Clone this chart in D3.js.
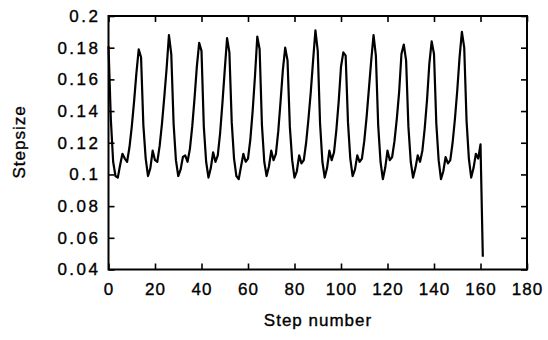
<!DOCTYPE html>
<html>
<head>
<meta charset="utf-8">
<script src="https://cdn.jsdelivr.net/npm/d3@7"></script>
<style>
  html, body { margin: 0; padding: 0; background: #fff; }
  svg { display: block; }
  text { font-family: "Liberation Sans", Arial, Helvetica, sans-serif; fill: #000; }
</style>
</head>
<body>
<svg id="chart" width="548" height="340"></svg>
<script>
// Step size taken at each step of the integration (step 0 .. 161)
const stepsize = [
  0.181, 0.135, 0.108, 0.099, 0.098, 0.106, 0.113, 0.110, 0.108, 0.117,
  0.130, 0.146, 0.164, 0.179, 0.174, 0.131, 0.110, 0.099, 0.104, 0.115,
  0.109, 0.108, 0.118, 0.132, 0.149, 0.167, 0.188, 0.176, 0.132, 0.109,
  0.099, 0.103, 0.111, 0.112, 0.108, 0.116, 0.130, 0.148, 0.168, 0.183,
  0.178, 0.130, 0.108, 0.098, 0.104, 0.114, 0.108, 0.112, 0.126, 0.145,
  0.166, 0.186, 0.177, 0.133, 0.110, 0.099, 0.097, 0.105, 0.113, 0.108,
  0.110, 0.122, 0.140, 0.162, 0.187, 0.179, 0.131, 0.108, 0.099, 0.105,
  0.115, 0.109, 0.113, 0.127, 0.146, 0.166, 0.180, 0.172, 0.130, 0.109,
  0.098, 0.102, 0.112, 0.107, 0.109, 0.120, 0.135, 0.152, 0.172, 0.191,
  0.178, 0.132, 0.108, 0.098, 0.104, 0.115, 0.109, 0.114, 0.128, 0.146,
  0.168, 0.177, 0.175, 0.133, 0.110, 0.099, 0.103, 0.112, 0.108, 0.110,
  0.121, 0.136, 0.154, 0.172, 0.188, 0.175, 0.131, 0.108, 0.097, 0.104,
  0.115, 0.109, 0.111, 0.121, 0.135, 0.152, 0.176, 0.182, 0.172, 0.130,
  0.108, 0.098, 0.104, 0.112, 0.108, 0.115, 0.129, 0.147, 0.170, 0.184,
  0.176, 0.132, 0.109, 0.097, 0.102, 0.111, 0.107, 0.109, 0.120, 0.135,
  0.153, 0.174, 0.190, 0.180, 0.134, 0.110, 0.098, 0.104, 0.113, 0.110,
  0.119, 0.048
];
const stepNumber = stepsize.map((_, i) => i);

const xTicks = [0, 20, 40, 60, 80, 100, 120, 140, 160, 180];
const yTicks = [0.04, 0.06, 0.08, 0.1, 0.12, 0.14, 0.16, 0.18, 0.2];
const xDomain = [0, 180];
const yDomain = [0.04, 0.2];
const xTitle = "Step number";
const yTitle = "Stepsize";

const svg = d3.select("#chart");
const x = d3.scaleLinear().domain(xDomain).range([108.5, 527]);
const y = d3.scaleLinear().domain(yDomain).range([269.5, 16]);

const tickLen = 6;
const fmt = d => String(d);

function styleAxis(g, showLabels, spacing) {
  g.select(".domain").remove();
  g.selectAll(".tick line").attr("stroke", "#000").attr("stroke-width", 1.6);
  g.selectAll(".tick text")
    .attr("font-size", 17)
    .attr("letter-spacing", spacing)
    .attr("stroke", "#000")
    .attr("stroke-width", 0.35);
  if (!showLabels) g.selectAll(".tick text").remove();
}

// bottom axis (labelled), ticks pointing into the plot
svg.append("g")
  .attr("transform", `translate(0,${y(yDomain[0])})`)
  .call(d3.axisBottom(x).tickValues(xTicks).tickFormat(fmt).tickSize(-tickLen).tickPadding(13))
  .call(g => styleAxis(g, true, "1px"));

// top axis (ticks only)
svg.append("g")
  .attr("transform", `translate(0,${y(yDomain[1])})`)
  .call(d3.axisTop(x).tickValues(xTicks).tickSize(-tickLen))
  .call(g => styleAxis(g, false, "1px"));

// left axis (labelled)
svg.append("g")
  .attr("transform", `translate(${x(xDomain[0])},0)`)
  .call(d3.axisLeft(y).tickValues(yTicks).tickFormat(fmt).tickSize(-tickLen).tickPadding(8))
  .call(g => styleAxis(g, true, "2.5px"));

// right axis (ticks only)
svg.append("g")
  .attr("transform", `translate(${x(xDomain[1])},0)`)
  .call(d3.axisRight(y).tickValues(yTicks).tickSize(-tickLen))
  .call(g => styleAxis(g, false, "1px"));

// plot frame
svg.append("rect")
  .attr("x", x(xDomain[0]))
  .attr("y", y(yDomain[1]))
  .attr("width", x(xDomain[1]) - x(xDomain[0]))
  .attr("height", y(yDomain[0]) - y(yDomain[1]))
  .attr("fill", "none")
  .attr("stroke", "#000")
  .attr("stroke-width", 2);

// step size series
const line = d3.line()
  .x((d, i) => x(stepNumber[i]))
  .y(d => y(d));

svg.append("path")
  .datum(stepsize)
  .attr("d", line)
  .attr("fill", "none")
  .attr("stroke", "#000")
  .attr("stroke-width", 2.2)
  .attr("stroke-linejoin", "round");

// axis titles
svg.append("text")
  .attr("x", 318)
  .attr("y", 326)
  .attr("text-anchor", "middle")
  .attr("font-size", 17)
  .attr("letter-spacing", "1px")
  .attr("stroke", "#000")
  .attr("stroke-width", 0.35)
  .text(xTitle);

svg.append("text")
  .attr("transform", "translate(25,142) rotate(-90)")
  .attr("text-anchor", "middle")
  .attr("font-size", 17)
  .attr("letter-spacing", "1px")
  .attr("stroke", "#000")
  .attr("stroke-width", 0.35)
  .text(yTitle);
</script>
</body>
</html>
